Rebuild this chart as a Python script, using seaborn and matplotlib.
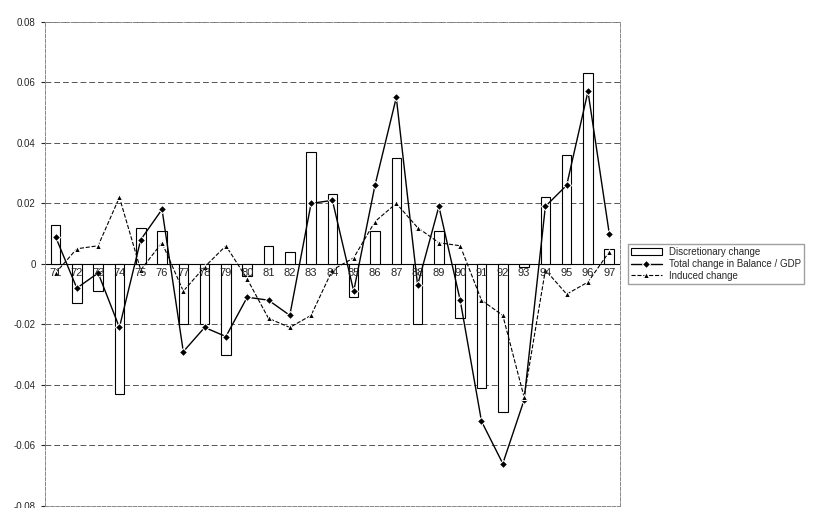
import numpy as np
import pandas as pd
import matplotlib
matplotlib.use('Agg')
import matplotlib.pyplot as plt
import seaborn as sns

years = ['71', '72', '73', '74', '75', '76', '77', '78', '79', '80', '81', '82', '83', '84',
         '85', '86', '87', '88', '89', '90', '91', '92', '93', '94', '95', '96', '97']
discretionary = [0.013, -0.013, -0.009, -0.043, 0.012, 0.011, -0.020, -0.020, -0.030, -0.004,
                 0.006, 0.004, 0.037, 0.023, -0.011, 0.011, 0.035, -0.020, 0.011, -0.018,
                 -0.041, -0.049, -0.001, 0.022, 0.036, 0.063, 0.005]
total = [0.009, -0.008, -0.003, -0.021, 0.008, 0.018, -0.029, -0.021, -0.024, -0.011,
         -0.012, -0.017, 0.020, 0.021, -0.009, 0.026, 0.055, -0.007, 0.019, -0.012,
         -0.052, -0.066, -0.045, 0.019, 0.026, 0.057, 0.010]
induced = [-0.003, 0.005, 0.006, 0.022, -0.002, 0.007, -0.009, -0.001, 0.006, -0.005,
           -0.018, -0.021, -0.017, -0.002, 0.002, 0.014, 0.020, 0.012, 0.007, 0.006,
           -0.012, -0.017, -0.044, -0.002, -0.010, -0.006, 0.004]

df = pd.DataFrame({'pos': np.arange(len(years)), 'year': years, 'disc': discretionary,
                   'total': total, 'induced': induced})

sns.set_style('white')
plt.rcParams['font.family'] = ['Liberation Sans', 'DejaVu Sans']

fig = plt.figure(figsize=(8.31, 5.08), dpi=100)
ax = fig.add_axes([0.054, 0.004, 0.692, 0.953])

ax.bar(df['pos'], df['disc'], width=0.45, color='white', edgecolor='black', linewidth=0.8,
       label='Discretionary change', zorder=2)
sns.lineplot(data=df, x='pos', y='total', ax=ax, color='black', marker='D', markersize=4,
             linewidth=1.0, label='Total change in Balance / GDP', zorder=3)
sns.lineplot(data=df, x='pos', y='induced', ax=ax, color='black', marker='^', markersize=5,
             linewidth=0.8, linestyle='--', label='Induced change', zorder=3)

ax.set_xlim(-0.5, len(years) - 0.5)
ax.set_ylim(-0.08, 0.08)
ticks = np.arange(-0.08, 0.081, 0.02)
ax.set_yticks(ticks)
ax.set_yticklabels([f'{v:.2f}' if abs(v) > 1e-9 else '0' for v in ticks])
ax.tick_params(axis='y', labelsize=7, length=3, left=True)
ax.set_xticks([])
ax.set_xlabel('')
ax.set_ylabel('')
for p, y in zip(df['pos'], years):
    ax.text(p, -0.0015, y, ha='center', va='top', fontsize=8, zorder=4)
ax.axhline(0, color='black', linewidth=0.8, zorder=1)
ax.grid(axis='y', color='#555555', linestyle=(0, (6, 3)), linewidth=0.7)
ax.set_axisbelow(True)
for s in ax.spines.values():
    s.set_color('#888888')
    s.set_linestyle('--')
    s.set_linewidth(0.7)

handles, labels = ax.get_legend_handles_labels()
order = [labels.index('Discretionary change'), labels.index('Total change in Balance / GDP'),
         labels.index('Induced change')]
ax.legend([handles[i] for i in order], [labels[i] for i in order],
          loc='center left', bbox_to_anchor=(1.005, 0.5), fontsize=7, frameon=True,
          fancybox=False, edgecolor='#888888', handlelength=3.2, borderpad=0.3,
          labelspacing=0.2)

fig.savefig('out.png', dpi=100)
